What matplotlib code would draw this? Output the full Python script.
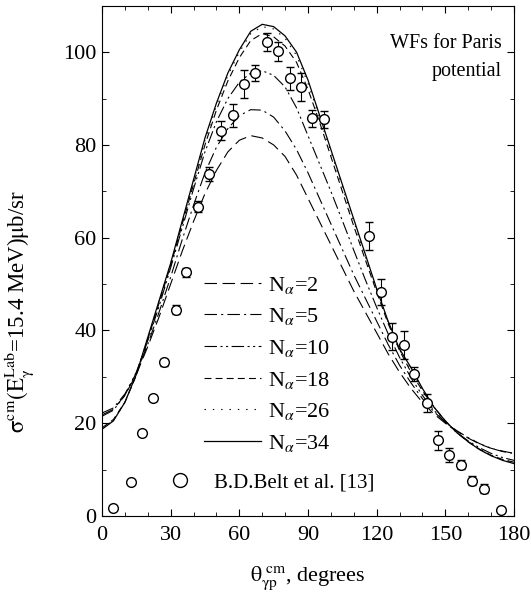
import numpy as np
import matplotlib
matplotlib.use('Agg')
import matplotlib.pyplot as plt
from matplotlib.lines import Line2D

plt.rcParams['font.family'] = ['Liberation Serif', 'DejaVu Serif']
plt.rcParams['mathtext.fontset'] = 'stix'
plt.rcParams['lines.scale_dashes'] = False

# theory curves, read every 5 degrees
theta = np.arange(0, 181, 5)
n2 = [21.8, 23, 26, 30.5, 36.5, 43, 50, 57, 63.5, 69.5, 74.5, 78.5, 81, 82, 81.5, 80,
      77.5, 73.5, 68.5, 63.5, 58.5, 53.5, 48.5, 44, 39.5, 35, 31, 27.5, 24.5, 22, 20,
      18.3, 16.8, 15.5, 14.6, 14, 13.5]
n5 = [22.2, 23.3, 26.3, 30.8, 37, 44, 51.5, 59.5, 67, 74, 79.5, 83.5, 86.3, 87.6, 87.5, 86,
      83, 79, 74, 68.5, 63, 57.5, 52, 47, 42, 37, 32.5, 28.7, 25.3, 22.5, 20.2,
      18.4, 16.9, 15.6, 14.6, 13.9, 13.5]
n10 = [21.5, 22.8, 26, 31, 37.8, 45.3, 53.5, 62, 70.5, 78.5, 85, 90, 93.5, 95.5, 96, 95,
       92.5, 88, 82, 76, 70, 63.7, 57.3, 51, 45, 39.3, 34.2, 29.8, 26, 22.8, 20.2,
       18, 16.2, 14.7, 13.5, 12.6, 12]
n18 = [19, 20.8, 24.5, 30.3, 38, 46, 54, 62.8, 71.5, 80, 87.5, 93.8, 98.8, 102.5, 104, 103.3,
       101.3, 97.8, 92, 85, 77.5, 70, 62.5, 55.3, 48.3, 41.5, 35.7, 31, 27, 23.5, 20.5,
       18, 16, 14.4, 13.1, 12.2, 11.6]
n26 = [18.9, 20.6, 24.5, 30.5, 38.3, 46.3, 54.3, 63.3, 72.2, 81, 88.5, 95, 100, 104, 105.5, 105,
       103, 99.3, 93.3, 86, 78.5, 71, 63.5, 56, 48.7, 41.8, 35.8, 31.5, 27.3, 23.5, 20.5,
       18, 16, 14.3, 13, 12.1, 11.5]
n34 = [18.7, 20.5, 24.5, 30.5, 38.5, 46.5, 54.5, 63.5, 72.5, 81.5, 89, 95.5, 100.5, 104.5, 106, 105.5,
       103.5, 100, 94, 86.5, 79, 71.5, 64, 56.5, 49, 42, 36, 32, 27.5, 23.5, 20.5,
       18, 16, 14.3, 13, 12, 11.3]

# B.D.Belt et al. data
exp_x = [4.8, 12.7, 17.5, 22.3, 27.1, 32.3, 36.7, 42, 46.9, 51.8, 57.1, 61.9, 66.8, 71.9, 76.7,
         82.1, 86.8, 91.7, 96.9, 116.6, 121.9, 126.7, 131.8, 136.5, 141.8, 146.9, 151.7,
         156.7, 161.8, 166.9, 174.2]
exp_y = [1.7, 7.3, 17.8, 25.4, 33.1, 44.5, 52.5, 66.7, 73.8, 83.1, 86.4, 93.2, 95.5, 102.2, 100.2,
         94.4, 92.5, 85.7, 85.5, 60.4, 48.3, 38.7, 36.8, 30.7, 24.4, 16.3, 13.1,
         11.1, 7.6, 5.9, 1.3]
exp_err = [0.3, 0.4, 0.5, 0.6, 0.8, 0.9, 0.9, 1.2, 1.5, 2, 2.5, 3, 1.8, 2, 2,
           2.5, 3, 1.8, 1.8, 3, 2.8, 3, 3, 1.5, 2, 2, 1.5,
           1, 1, 1, 0.5]

labels = ['2', '5', '10', '18', '26', '34']
curves = [n2, n5, n10, n18, n26, n34]
dashes = [(9, 4), (9, 3, 1.5, 3), (9, 2.5, 1.5, 2.5, 1.5, 2.5), (5, 3), (1, 5), None]

fig = plt.figure(figsize=(5.31, 6.01), dpi=100)
ax = fig.add_axes([0.192, 0.1414, 0.776, 0.849])

handles = []
for y, lab, d in zip(curves, labels, dashes):
    if d is None:
        ln, = ax.plot(theta, y, color='black', lw=0.9, ls='-')
    else:
        ln, = ax.plot(theta, y, color='black', lw=0.8, dashes=d)
    handles.append(Line2D([], [], color='black', lw=0.9 if d is None else 0.8,
                          **({} if d is None else {'dashes': d}),
                          label=r'N$_{\alpha}$=' + lab))

ax.errorbar(exp_x, exp_y, yerr=exp_err, fmt='o', mfc='white', mec='black', ms=7,
            mew=1.0, ecolor='black', elinewidth=0.8, capsize=3, capthick=0.8)

ax.set_xlim(0, 180)
ax.set_ylim(0, 110)
ax.set_xticks(np.arange(0, 181, 30))
ax.set_xticks(np.arange(0, 181, 10), minor=True)
ax.set_yticks(np.arange(0, 101, 20))
ax.set_yticks(np.arange(0, 111, 10), minor=True)
ax.tick_params(which='both', direction='in', top=True, right=True, labelsize=16)
ax.tick_params(which='major', length=5)
ax.tick_params(which='minor', length=3)
ax.tick_params(axis='x', pad=7)
ax.tick_params(axis='y', pad=4)

ax.set_xlabel(r'$\mathrm{\theta_{\gamma p}^{\ cm}}$, degrees', fontsize=16)
ax.xaxis.set_label_coords(0.5, -0.095)
ax.set_ylabel(r'$\mathrm{\sigma^{cm}(E_{\gamma}^{Lab}}$=15.4 MeV)$\mathrm{\mu}$b/sr',
              fontsize=16.5)
ax.yaxis.set_label_coords(-0.16, 0.4)

ax.text(0.97, 0.945, 'WFs for Paris\npotential', transform=ax.transAxes,
        ha='right', va='top', fontsize=14.5, multialignment='right', linespacing=1.65)

leg = ax.legend(handles=handles, loc='upper left', bbox_to_anchor=(0.22, 0.495),
                frameon=False, fontsize=16, handlelength=2.6, handletextpad=0.3,
                labelspacing=0.48, borderpad=0)
ax.add_artist(leg)

dh = Line2D([], [], ls='none', marker='o', ms=10, mfc='white', mec='black', mew=1.0,
            label='B.D.Belt et al. [13]')
ax.legend(handles=[dh], loc='upper left', bbox_to_anchor=(0.14, 0.105), frameon=False,
          fontsize=15, handlelength=1.0, handletextpad=1.1, borderpad=0)

fig.savefig('out.png', dpi=100)
